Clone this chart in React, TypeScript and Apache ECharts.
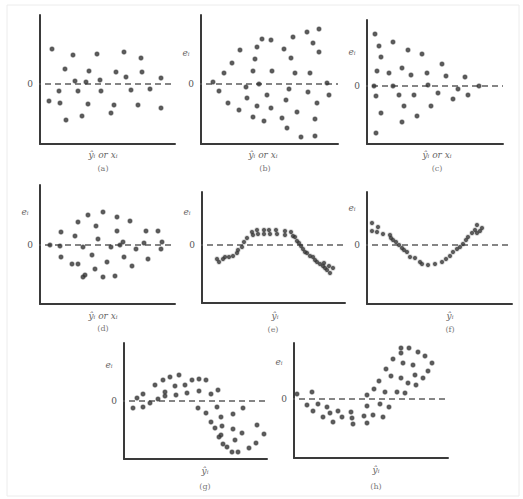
import React, { useEffect, useRef } from "react";
import * as echarts from "echarts";

// Residual plots: each point is [fitted value / x position, residual e_i]
const panelA: number[][] = [
  [12, 35], [33, 29], [57, 30], [84, 32], [101, 26], [25, 15], [49, 13], [76, 12], [102, 12],
  [86, 7], [121, 6], [35, 3], [46, 2], [60, 4], [19, -7], [38, -7], [61, -7], [91, -6], [110, -5],
  [9, -17], [20, -19], [48, -20], [74, -21], [98, -21], [121, -24], [26, -36], [42, -32], [71, -29],
];
const panelB: number[][] = [
  [12, 2], [18, -7], [23, 11], [31, 21], [39, 34], [27, -19], [38, -26], [45, -3], [46, -14],
  [52, 13], [54, 25], [56, 37], [61, 45], [70, 44], [58, 0], [56, -22], [52, -33], [63, -37],
  [66, -11], [70, -24], [71, 13], [83, 35], [90, 26], [92, 47], [94, 11], [88, -5], [85, -16],
  [81, -34], [86, -44], [96, -28], [100, -53], [106, 52], [112, 41], [118, 55], [118, 32],
  [109, 11], [107, -8], [116, -19], [114, -35], [114, -52], [126, 1], [128, -11],
];
const panelC: number[][] = [
  [8, 52], [12, 40], [26, 44], [14, 29], [41, 36], [55, 32], [10, 15], [22, 13], [35, 18],
  [44, 11], [60, 13], [75, 22], [79, 10], [98, 9], [7, 0], [26, 0], [61, 1], [91, -3], [112, 0],
  [9, -10], [32, -9], [47, -9], [71, -7], [86, -13], [101, -9], [37, -20], [64, -20], [14, -27],
  [50, -30], [35, -36], [9, -47],
];
const panelD: number[][] = [
  [21, 13], [38, 23], [48, 30], [63, 33], [77, 28], [90, 24], [56, 19], [35, 9], [58, 6],
  [77, 14], [106, 14], [118, 14], [83, 3], [104, 2], [122, 3], [10, 0], [20, -1], [43, -2],
  [71, -2], [80, 0], [96, -4], [121, -4], [21, -12], [52, -10], [84, -12], [108, -14], [32, -19],
  [38, -19], [67, -17], [92, -21], [55, -24], [45, -30], [43, -32], [63, -32], [75, -31],
];
const panelE: number[][] = [
  [15, -14], [17, -17], [21, -14], [23, -12], [27, -12], [31, -11], [35, -8], [36, -5], [40, -2],
  [42, 3], [45, 7], [50, 13], [51, 10], [55, 15], [56, 11], [62, 15], [62, 11], [67, 15], [68, 11],
  [74, 15], [75, 11], [83, 14], [83, 10], [89, 13], [91, 9], [93, 8], [95, 4], [97, 2], [99, -1],
  [101, -4], [103, -7], [105, -8], [108, -11], [111, -12], [113, -15], [115, -17], [118, -19],
  [121, -21], [123, -23], [125, -25], [128, -28], [131, -23], [127, -21], [122, -18],
];
const panelF: number[][] = [
  [5, 22], [5, 14], [11, 18], [10, 13], [16, 11], [23, 10], [24, 7], [26, 5], [29, 3], [32, 0],
  [35, -3], [37, -5], [40, -7], [43, -12], [48, -13], [53, -17], [55, -19], [61, -20], [68, -19],
  [75, -17], [79, -14], [83, -11], [86, -7], [90, -4], [93, -2], [96, 1], [99, 5], [101, 8],
  [105, 12], [108, 15], [110, 20], [115, 17], [113, 14], [110, 12],
];
const panelG: number[][] = [
  [9, -7], [13, 3], [19, 7], [19, -6], [26, -2], [31, 16], [34, 2], [39, 21], [41, 9], [41, 5],
  [46, 24], [52, 6], [51, 15], [55, 26], [61, 16], [63, 8], [68, 21], [75, 22], [82, 21], [75, 10],
  [74, -7], [82, -12], [87, 7], [94, 11], [93, -6], [87, -21], [97, -16], [91, -27], [98, -25],
  [97, -34], [95, -36], [99, -43], [103, -46], [108, -51], [114, -51], [109, -13], [109, -28],
  [111, -39], [119, -7], [118, -32], [125, -47], [132, -42], [133, -24], [140, -33],
];
const panelH: number[][] = [
  [3, 5], [18, 7], [13, -6], [24, -5], [19, -12], [29, -18], [33, -8], [36, -14], [39, -23],
  [44, -12], [48, -18], [57, -13], [58, -19], [59, -25], [70, -17], [73, -24], [79, -16], [89, -18],
  [73, -7], [73, 4], [80, 10], [86, -5], [95, -8], [91, 7], [85, 18], [92, 30], [97, 23], [103, 7],
  [111, 6], [107, 21], [99, 40], [109, 36], [107, 51], [107, 46], [115, 51], [119, 34], [124, 47],
  [114, 16], [122, 14], [121, 24], [131, 43], [138, 36], [134, 28], [129, 21],
];

const captions = ["(a)", "(b)", "(c)", "(d)", "(e)", "(f)", "(g)", "(h)"];
const xTitles = ["ŷᵢ or xᵢ", "ŷᵢ or xᵢ", "ŷᵢ or xᵢ", "ŷᵢ or xᵢ", "ŷᵢ", "ŷᵢ", "ŷᵢ", "ŷᵢ"];
const yTitle = "eᵢ";
const zeroLabel = "0";
// the dashed reference line e = 0 starts slightly left of the vertical axis
const zeroLineStart = -5;

// layout of each panel (pixels): axis origin x, top, bottom, right end, zero line y
const layout = [
  { ax: 40, top: 15, bottom: 144, right: 175, zero: 84, ey: null as number | null, xl: 103, cap: 103, xlY: 155, capY: 168 },
  { ax: 201, top: 15, bottom: 144, right: 338, zero: 84, ey: 53, xl: 263, cap: 265, xlY: 155, capY: 168 },
  { ax: 367, top: 20, bottom: 144, right: 503, zero: 86, ey: 52, xl: 437, cap: 437, xlY: 155, capY: 168 },
  { ax: 40, top: 185, bottom: 304, right: 175, zero: 245, ey: 212, xl: 103, cap: 103, xlY: 316, capY: 328 },
  { ax: 202, top: 192, bottom: 303, right: 345, zero: 245, ey: 212, xl: 275, cap: 273, xlY: 316, capY: 329 },
  { ax: 367, top: 192, bottom: 304, right: 512, zero: 245, ey: 208, xl: 450, cap: 450, xlY: 316, capY: 329 },
  { ax: 124, top: 343, bottom: 459, right: 267, zero: 401, ey: 365, xl: 205, cap: 205, xlY: 471, capY: 486 },
  { ax: 294, top: 343, bottom: 458, right: 448, zero: 399, ey: 362, xl: 376, cap: 376, xlY: 470, capY: 486 },
];

const panelData = [panelA, panelB, panelC, panelD, panelE, panelF, panelG, panelH];

export default function App() {
  const ref = useRef<HTMLDivElement>(null);
  useEffect(() => {
    document.body.style.margin = "0";
    if (!ref.current) return;
    const chart = echarts.init(ref.current, null, { renderer: "svg" });
    const axisLineStyle = { color: "#3a3a3a", width: 2 };
    const font = "italic 9px 'DejaVu Serif', serif";
    const graphics: any[] = [
      {
        type: "rect",
        shape: { x: 7, y: 5, width: 512, height: 491 },
        style: { fill: "none", stroke: "#ececec", lineWidth: 1 },
        silent: true,
      },
    ];
    layout.forEach((l, i) => {
      graphics.push({
        type: "text", x: l.ax - 10, y: l.zero,
        style: { text: zeroLabel, font: "9px 'DejaVu Serif', serif", fill: "#555", textAlign: "center", textVerticalAlign: "middle" },
      });
      if (l.ey !== null) {
        graphics.push({
          type: "text", x: l.ax - 15, y: l.ey,
          style: { text: yTitle, font, fill: "#666", textAlign: "center", textVerticalAlign: "middle" },
        });
      }
      graphics.push({
        type: "text", x: l.xl, y: l.xlY,
        style: { text: xTitles[i], font, fill: "#666", textAlign: "center", textVerticalAlign: "middle" },
      });
      graphics.push({
        type: "text", x: l.cap, y: l.capY,
        style: { text: captions[i], font: "8px 'DejaVu Serif', serif", fill: "#777", textAlign: "center", textVerticalAlign: "middle" },
      });
    });

    const series: any[] = [];
    panelData.forEach((d, i) => {
      const l = layout[i];
      series.push({
        type: "line",
        xAxisIndex: i, yAxisIndex: i,
        data: [[zeroLineStart, 0], [l.right - l.ax, 0]],
        clip: false,
        symbol: "none",
        silent: true,
        lineStyle: { color: "#5e5e5e", width: 1.6, type: [6, 4] },
        z: 2,
      });
      series.push({
        type: "scatter",
        xAxisIndex: i, yAxisIndex: i,
        data: d,
        symbol: "circle",
        symbolSize: i === 4 || i === 5 ? 4 : 4.5,
        itemStyle: { color: "#333", borderColor: "rgba(60,60,60,0.3)", borderWidth: 1.5 },
        silent: true,
        z: 3,
      });
    });

    const option: any = {
      animation: false,
      backgroundColor: "#ffffff",
      grid: layout.map((l) => ({
        left: l.ax, top: l.top, width: l.right - l.ax, height: l.bottom - l.top, containLabel: false,
      })),
      xAxis: layout.map((l, i) => ({
        gridIndex: i, type: "value", min: 0, max: l.right - l.ax,
        axisLine: { show: true, onZero: false, lineStyle: axisLineStyle },
        axisTick: { show: false }, axisLabel: { show: false }, splitLine: { show: false },
      })),
      yAxis: layout.map((l, i) => ({
        gridIndex: i, type: "value", min: l.zero - l.bottom, max: l.zero - l.top,
        axisLine: { show: true, onZero: false, lineStyle: axisLineStyle },
        axisTick: { show: false }, axisLabel: { show: false }, splitLine: { show: false },
      })),
      series,
      graphic: graphics,
    };
    chart.setOption(option);
    return () => chart.dispose();
  }, []);
  return <div ref={ref} style={{ width: 523, height: 499 }} />;
}
